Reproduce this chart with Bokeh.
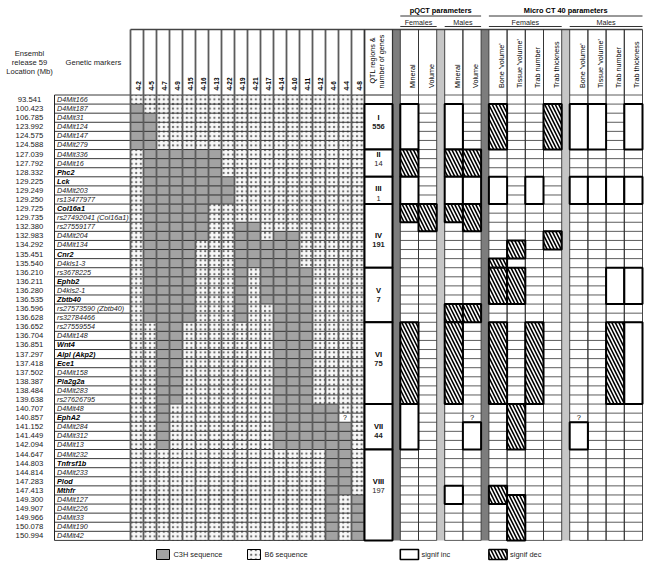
import math
from bokeh.plotting import figure
from bokeh.models import Range1d
from bokeh.core.properties import value
from bokeh.embed import file_html
from bokeh.resources import INLINE

# ---------------- data ----------------
locations = ["93.541", "100.423", "106.785", "123.992", "124.575", "124.588", "127.039", "127.792",
             "128.332", "129.225", "129.249", "129.250", "129.725", "129.735", "132.380", "132.983",
             "134.292", "135.451", "135.540", "136.210", "136.211", "136.280", "136.535", "136.596",
             "136.628", "136.652", "136.704", "136.851", "137.297", "137.418", "137.502", "138.387",
             "138.484", "139.638", "140.707", "140.857", "141.152", "141.449", "142.094", "144.647",
             "144.803", "144.814", "147.283", "147.413", "149.300", "149.907", "149.966", "150.078",
             "150.994"]
markers = ["D4Mit166", "D4Mit187", "D4Mit31", "D4Mit124", "D4Mit147", "D4Mit279", "D4Mit336", "D4Mit16",
           "Phc2", "Lck", "D4Mit203", "rs13477977", "Col16a1", "rs27492041 (Col16a1)", "rs27559177",
           "D4Mit204", "D4Mit134", "Cnr2", "D4kls1-3", "rs3678225", "Ephb2", "D4kls2-1", "Zbtb40",
           "rs27573590 (Zbtb40)", "rs32784466", "rs27559554", "D4Mit148", "Wnt4", "Alpl (Akp2)", "Ece1",
           "D4Mit158", "Pla2g2a", "D4Mit283", "rs27626795", "D4Mit48", "EphA2", "D4Mit284", "D4Mit312",
           "D4Mit13", "D4Mit232", "Tnfrsf1b", "D4Mit233", "Plod", "Mthfr", "D4Mit127", "D4Mit226",
           "D4Mit33", "D4Mit190", "D4Mit42"]

strains = ["4-2", "4-5", "4-7", "4-9", "4-15", "4-16", "4-13", "4-22", "4-19", "4-21", "4-17",
           "4-14", "4-10", "4-11", "4-12", "4-6", "4-4", "4-8"]
c3h_first = ["D4Mit187", "D4Mit31", "D4Mit336", "D4Mit336", "D4Mit336", "D4Mit336", "D4Mit336", "Lck",
             "rs27559177", "rs27559177", "D4Mit134", "D4Mit204", "D4Mit204", "rs3678225", "D4Mit48",
             "D4Mit48", "D4Mit284", "D4Mit127"]
c3h_last = ["D4Mit279", "rs32784466", "D4Mit13", "rs27626795", "rs32784466", "D4Mit204", "rs13477977",
            "rs13477977", "rs32784466", "D4kls1-3", "Zbtb40", "D4Mit13", "D4Mit13", "D4Mit13", "D4Mit13",
            "D4Mit42", "Mthfr", "D4Mit42"]
strain_unknown = [("4-4", "EphA2")]

qtl_labels = ["I", "II", "III", "IV", "V", "VI", "VII", "VIII"]
qtl_genes = ["556", "14", "1", "191", "7", "75", "44", "197"]
qtl_first = ["D4Mit187", "D4Mit336", "Lck", "Col16a1", "rs3678225", "rs27559554", "D4Mit48", "D4Mit232"]
qtl_last = ["D4Mit279", "Phc2", "rs13477977", "D4kls1-3", "rs32784466", "rs27626795", "D4Mit13", "D4Mit42"]

param_labels = ["Mineral", "Volume", "Mineral", "Volume",
                "Bone 'volume'", "Tissue 'volume'", "Trab number", "Trab thickness",
                "Bone 'volume'", "Tissue 'volume'", "Trab number", "Trab thickness"]
# effects per parameter column: (first marker, last marker, kind)
effects = [
    [("D4Mit187", "D4Mit279", "inc"), ("D4Mit336", "Phc2", "dec"), ("Lck", "rs13477977", "inc"),
     ("Col16a1", "rs27492041 (Col16a1)", "dec"), ("rs27559554", "rs27626795", "dec"), ("D4Mit48", "D4Mit13", "inc")],
    [("Col16a1", "rs27559177", "dec")],
    [("D4Mit187", "D4Mit279", "inc"), ("D4Mit336", "Phc2", "dec"), ("Lck", "rs13477977", "inc"),
     ("Col16a1", "rs27492041 (Col16a1)", "dec"), ("rs27573590 (Zbtb40)", "rs32784466", "dec"),
     ("rs27559554", "rs27626795", "dec"), ("Mthfr", "D4Mit127", "inc")],
    [("D4Mit336", "Phc2", "dec"), ("Lck", "rs13477977", "inc"), ("Col16a1", "rs27559177", "dec"),
     ("rs27573590 (Zbtb40)", "rs32784466", "dec"), ("D4Mit284", "D4Mit13", "inc")],
    [("D4Mit187", "D4Mit279", "dec"), ("Lck", "rs13477977", "inc"), ("D4kls1-3", "D4kls1-3", "dec"),
     ("rs3678225", "Zbtb40", "dec"), ("rs27559554", "rs27626795", "dec"), ("Mthfr", "D4Mit127", "dec")],
    [("D4Mit134", "Cnr2", "dec"), ("rs3678225", "Zbtb40", "dec"), ("D4Mit48", "D4Mit13", "dec"),
     ("D4Mit127", "D4Mit42", "dec")],
    [("Lck", "rs13477977", "inc"), ("rs27559554", "rs27626795", "dec")],
    [("D4Mit187", "D4Mit279", "dec"), ("D4Mit204", "D4Mit134", "dec")],
    [("D4Mit187", "D4Mit279", "inc"), ("Lck", "rs13477977", "inc"), ("D4Mit284", "D4Mit13", "inc")],
    [("D4Mit187", "D4Mit279", "inc"), ("Lck", "rs13477977", "inc")],
    [("Lck", "rs13477977", "inc"), ("rs3678225", "Zbtb40", "inc"), ("rs27559554", "rs27626795", "dec")],
    [("D4Mit187", "D4Mit279", "inc"), ("Lck", "rs13477977", "inc"), ("rs3678225", "Zbtb40", "inc"),
     ("rs27559554", "rs27626795", "inc")],
]
param_unknown = [(3, "EphA2"), (8, "EphA2")]

# ---------------- layout ----------------
FONT = value("Liberation Sans")
Y0, RH = 94.5, 9.09
HEAD_TOP = 29.0
SX0, SCW = 130.0, 13.0
MX0 = 54.0
LOC_X = 29.0
PW = 18.2
n_rows = len(markers)
ridx = {m: i for i, m in enumerate(markers)}
Y1 = Y0 + n_rows * RH
DOT = dict(hatch_pattern="dot", hatch_scale=4.6, hatch_color="#6e6e6e", hatch_weight=0.7)


def rt(i):
    return Y0 + i * RH


def rc(i):
    return Y0 + (i + 0.5) * RH


QX0 = SX0 + SCW * len(strains)
QX1 = QX0 + 28
seq = ["dark", 0, 1, "light", 2, 3, "dark", 4, 5, 6, 7, "light", 8, 9, 10, 11]
bar_w = {"dark": 7.8, "light": 8.0}
px = {}
bars = []
x = QX1
for s in seq:
    if isinstance(s, str):
        bars.append((x, x + bar_w[s], s))
        x += bar_w[s]
    else:
        px[s] = (x, x + PW)
        x += PW
PX_END = x

W, H = 647, 567
p = figure(width=W, height=H, output_backend="svg", toolbar_location=None,
           x_range=Range1d(0, W), y_range=Range1d(H, 0),
           x_axis_location=None, y_axis_location=None, min_border=0)
p.outline_line_color = None
p.xgrid.visible = False
p.ygrid.visible = False

# gray bars
for (a, b, kind) in bars:
    p.quad(left=[a], right=[b], top=[HEAD_TOP], bottom=[Y1],
           fill_color="#7d7d7d" if kind == "dark" else "#c6c6c6", line_color=None)

# strain cells
g_l, g_r, g_t, g_b = [], [], [], []
d_l, d_r, d_t, d_b = [], [], [], []
u_l, u_r, u_t, u_b = [], [], [], []
unk = {(s, m) for s, m in strain_unknown}
for j, s in enumerate(strains):
    a, b = ridx[c3h_first[j]], ridx[c3h_last[j]]
    for i in range(n_rows):
        L, R, T, B = SX0 + SCW * j, SX0 + SCW * (j + 1), rt(i), rt(i + 1)
        if (s, markers[i]) in unk:
            u_l.append(L); u_r.append(R); u_t.append(T); u_b.append(B)
        elif a <= i <= b:
            g_l.append(L); g_r.append(R); g_t.append(T); g_b.append(B)
        else:
            d_l.append(L); d_r.append(R); d_t.append(T); d_b.append(B)
p.quad(left=d_l, right=d_r, top=d_t, bottom=d_b, fill_color="#f8f8f8", line_color=None, **DOT)
p.quad(left=g_l, right=g_r, top=g_t, bottom=g_b, fill_color="#a3a3a3", line_color=None)
p.quad(left=u_l, right=u_r, top=u_t, bottom=u_b, fill_color="white", line_color=None)
for j, s in enumerate(strains):
    for i in range(n_rows):
        if (s, markers[i]) in unk:
            p.text(x=[SX0 + SCW * (j + 0.5)], y=[rc(i)], text=["?"], text_font=FONT,
                   text_font_size="7px", text_align="center", text_baseline="middle")

# strain grid lines
hx0 = [MX0] * (n_rows + 1)
hx1 = [QX0] * (n_rows + 1)
hy = [rt(i) for i in range(n_rows + 1)]
p.segment(x0=hx0, y0=hy, x1=hx1, y1=hy, line_color="#222222", line_width=0.9)
vx = [SX0 + SCW * j for j in range(len(strains) + 1)]
p.segment(x0=vx, y0=[HEAD_TOP] * len(vx), x1=vx, y1=[Y1] * len(vx), line_color="#5c5c5c", line_width=1.8)
p.segment(x0=[MX0], y0=[Y0], x1=[MX0], y1=[Y1], line_color="#222222", line_width=1.0)
p.segment(x0=[SX0], y0=[HEAD_TOP], x1=[PX_END], y1=[HEAD_TOP], line_color="#444444", line_width=1.6)

# QTL column
p.segment(x0=[QX0, QX1], y0=[HEAD_TOP] * 2, x1=[QX0, QX1], y1=[Y1] * 2, line_color="#333333", line_width=1.2)
p.segment(x0=[QX0], y0=[Y0], x1=[QX1], y1=[Y0], line_color="#222222", line_width=1)
ql = [QX0] * len(qtl_labels)
qr = [QX1] * len(qtl_labels)
qt = [rt(ridx[m]) for m in qtl_first]
qb = [rt(ridx[m] + 1) for m in qtl_last]
p.quad(left=ql, right=qr, top=qt, bottom=qb, fill_color="white", line_color="black", line_width=2)
label_rows = [2, 6, 10, 15, 21, 28, 36, 42]
label_shift = [0, 0, -1.5, 0, 0, 0, 0, 0]
qx = (QX0 + QX1) / 2
bold_count = {"556", "191", "7", "75", "44"}
for k in range(len(qtl_labels)):
    y_l = rc(label_rows[k]) + label_shift[k]
    p.text(x=[qx], y=[y_l], text=[qtl_labels[k]], text_font=FONT, text_font_size="7.5px",
           text_font_style="bold", text_align="center", text_baseline="middle")
    p.text(x=[qx], y=[y_l + RH], text=[qtl_genes[k]], text_font=FONT, text_font_size="7.5px",
           text_font_style="bold" if qtl_genes[k] in bold_count else "normal",
           text_align="center", text_baseline="middle", text_color="#222222")

# parameter columns
for k in range(len(param_labels)):
    a, b = px[k]
    ys = [rt(i) for i in range(n_rows + 1)]
    p.segment(x0=[a] * len(ys), y0=ys, x1=[b] * len(ys), y1=ys, line_color="#333333", line_width=0.8)
    p.segment(x0=[a, b], y0=[HEAD_TOP] * 2, x1=[a, b], y1=[Y1] * 2, line_color="#333333", line_width=0.9)
for k, eff in enumerate(effects):
    a, b = px[k]
    for (m0, m1, kind) in eff:
        T, B = rt(ridx[m0]), rt(ridx[m1] + 1)
        if kind == "inc":
            p.quad(left=[a], right=[b], top=[T], bottom=[B], fill_color="white",
                   line_color="black", line_width=2)
        else:
            p.quad(left=[a], right=[b], top=[T], bottom=[B], fill_color="white",
                   hatch_pattern="left_diagonal_line", hatch_scale=7, hatch_weight=1.6,
                   hatch_color="black", line_color="black", line_width=2)
for (k, m) in param_unknown:
    a, b = px[k]
    p.text(x=[(a + b) / 2], y=[rc(ridx[m])], text=["?"], text_font=FONT, text_font_size="7.5px",
           text_align="center", text_baseline="middle")

# ---------------- texts ----------------
p.text(x=[LOC_X] * n_rows, y=[rc(i) for i in range(n_rows)], text=locations, text_font=FONT,
       text_font_size="7.7px", text_align="center", text_baseline="middle", text_color="#222222")
is_gene = [not (m.startswith("D4") or m.startswith("rs")) for m in markers]
gi = [i for i in range(n_rows) if is_gene[i]]
ni = [i for i in range(n_rows) if not is_gene[i]]
p.text(x=[MX0 + 2.5] * len(ni), y=[rc(i) for i in ni], text=[markers[i] for i in ni], text_font=FONT,
       text_font_size="7.2px", text_font_style="italic", text_align="left", text_baseline="middle",
       text_color="#222222")
p.text(x=[MX0 + 2.5] * len(gi), y=[rc(i) for i in gi], text=[markers[i] for i in gi], text_font=FONT,
       text_font_size="7.3px", text_font_style="bold italic", text_align="left", text_baseline="middle")

p.text(x=[LOC_X] * 3, y=[53, 62, 71], text=["Ensembl", "release 59", "Location (Mb)"], text_font=FONT,
       text_font_size="7.6px", text_align="center", text_baseline="middle", text_color="#222222")
p.text(x=[65], y=[62], text=["Genetic markers"], text_font=FONT, text_font_size="7.6px",
       text_align="left", text_baseline="middle", text_color="#222222")

# rotated column headers
p.text(x=[SX0 + SCW * (j + 0.5) + 1.5 for j in range(len(strains))], y=[90] * len(strains), text=strains,
       angle=math.pi / 2, text_font=FONT, text_font_size="6.5px", text_font_style="bold",
       text_align="left", text_baseline="middle")
p.text(x=[qx - 6.5, qx + 2.5], y=[83, 88], text=["QTL regions &", "number of genes"], angle=math.pi / 2,
       text_font=FONT, text_font_size="7.2px", text_align="left", text_baseline="middle")
p.text(x=[(px[k][0] + px[k][1]) / 2 + 3.5 for k in range(len(param_labels))], y=[87.5] * len(param_labels),
       text=param_labels, angle=math.pi / 2, text_font=FONT, text_font_size="7.2px",
       text_align="left", text_baseline="middle")

# group headers
groups = [("pQCT parameters", 0, 3), ("Micro CT 40 parameters", 4, 11)]
for (t, k0, k1) in groups:
    a, b = px[k0][0], px[k1][1]
    p.text(x=[(a + b) / 2], y=[10], text=[t], text_font=FONT, text_font_size="7.4px",
           text_font_style="bold", text_align="center", text_baseline="middle")
    p.segment(x0=[a], y0=[15.5], x1=[b], y1=[15.5], line_color="#333333", line_width=1)
subs = [("Females", 0, 1), ("Males", 2, 3), ("Females", 4, 7), ("Males", 8, 11)]
for (t, k0, k1) in subs:
    a, b = px[k0][0], px[k1][1]
    p.text(x=[(a + b) / 2], y=[22], text=[t], text_font=FONT, text_font_size="7.2px",
           text_align="center", text_baseline="middle", text_color="#222222")
    p.segment(x0=[a], y0=[26], x1=[b], y1=[26], line_color="#333333", line_width=1)

# ---------------- legend ----------------
LY0, LY1 = 549, 559
LYC = (LY0 + LY1) / 2
c3x = SX0 + SCW * 2
b6x = SX0 + SCW * 9
p.quad(left=[c3x], right=[c3x + SCW], top=[LY0], bottom=[LY1], fill_color="#a3a3a3", line_color="black",
       line_width=1)
p.quad(left=[b6x], right=[b6x + SCW], top=[LY0], bottom=[LY1], fill_color="#f8f8f8", line_color="black",
       line_width=1, **DOT)
p.quad(left=[px[0][0]], right=[px[0][1]], top=[LY0], bottom=[LY1], fill_color="white",
       line_color="black", line_width=1.6)
p.quad(left=[px[4][0]], right=[px[4][1]], top=[LY0], bottom=[LY1], fill_color="white",
       hatch_pattern="left_diagonal_line", hatch_scale=7, hatch_weight=1.6, hatch_color="black",
       line_color="black", line_width=1.6)
p.text(x=[c3x + SCW + 4, b6x + SCW + 4, px[0][1] + 3, px[4][1] + 3], y=[LYC] * 4,
       text=["C3H sequence", "B6 sequence", "signif inc", "signif dec"], text_font=FONT,
       text_font_size="7.4px", text_align="left", text_baseline="middle", text_color="#222222")

open("out.html", "w").write(file_html(p, INLINE))
